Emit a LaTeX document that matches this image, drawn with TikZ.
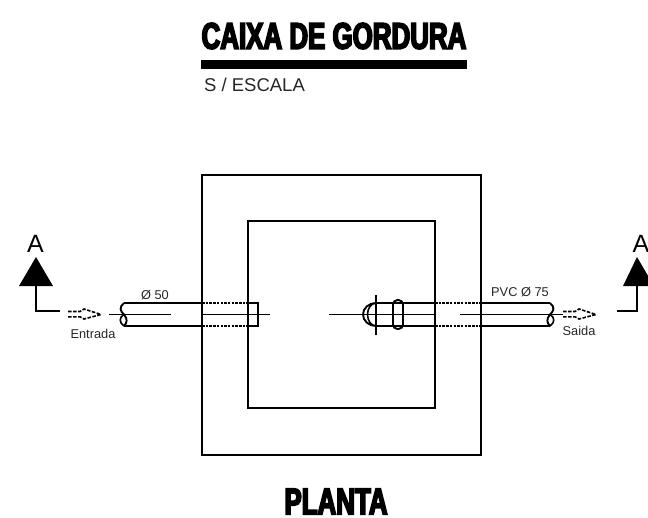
\documentclass[tikz,border=0pt]{standalone}
\usepackage{fontspec}
\setmainfont{Liberation Sans}
\newfontfamily\heavyfont[FakeBold=4.5,FakeStretch=0.7]{Liberation Sans Bold}
\begin{document}
\begin{tikzpicture}[x=1pt,y=-1pt,
  wall/.style={draw=black,line width=1.7pt},
  pipe/.style={draw=black,line width=1.9pt},
  axisline/.style={draw=black,line width=1.6pt},
  hidden/.style={draw=black,line width=1.2pt,dash pattern=on 2.5pt off 1.2pt},
  flow/.style={draw=black,line width=1.6pt,dash pattern=on 3.5pt off 1.5pt},
  heading/.style={inner sep=0pt,font=\heavyfont\fontsize{37}{37}\selectfont},
  small/.style={inner sep=0pt,font=\fontsize{12.8}{13}\selectfont,text=black!85},
  sect/.style={inner sep=0pt,font=\fontsize{25}{25}\selectfont}]
\useasboundingbox (0,0) rectangle (648,517);
% titles
\node[heading] (title) at (334,36) {CAIXA DE GORDURA};
\fill (201,60) rectangle (467,69);
\node[inner sep=0pt,font=\fontsize{18.5}{18.5}\selectfont,text=black!85] (scale) at (254.5,85) {S / ESCALA};
\node[heading] (planta) at (336,501.5) {PLANTA};
% walls
\draw[wall] (202,175) rectangle (481,455);
\draw[wall] (248,221) rectangle (435,408);
% inlet pipe
\draw[pipe] (124,303) -- (202,303) (248,303) -- (258,303) -- (258,326) -- (248,326) (202,326) -- (124,326);
\draw[hidden] (202,303) -- (248,303) (202,326) -- (248,326);
\draw[pipe] (124,303) .. controls (119,307) and (120,311) .. (124,314.5) .. controls (128,319) and (127,323) .. (124,326);
\draw[axisline] (124,314.5) .. controls (119,317) and (119,323) .. (124,326);
\draw[axisline] (109,314.5) -- (171,314.5) (202,314.5) -- (270,314.5);
% outlet pipe
\draw[pipe] (376,303) -- (435,303) (481,303) -- (550,303) (376,326) -- (435,326) (481,326) -- (550,326);
\draw[hidden] (435,303) -- (481,303) (435,326) -- (481,326);
\draw[pipe] (550,303) .. controls (555,307) and (554,311) .. (550,314.5) .. controls (546,319) and (547,323) .. (550,326);
\draw[axisline] (550,314.5) .. controls (555,317) and (555,323) .. (550,326);
\draw[axisline] (329,314.5) -- (435,314.5) (460,314.5) -- (563,314.5);
\draw[axisline] (376,295) -- (376,335);
\draw[pipe] (376,303) arc[start angle=-90,end angle=-270,x radius=13,y radius=11.5];
\draw[axisline] (376,303) arc[start angle=-90,end angle=-270,x radius=8.5,y radius=11.5];
\draw[pipe,fill=white,rounded corners=4.5pt] (393,300) rectangle (403,329);
\draw[axisline] (393,314.5) -- (403,314.5);
\draw[axisline] (393,303) -- (403,303) (393,326) -- (403,326);
% flow arrows
\draw[flow] (68,311.5) -- (80,311.5) -- (84,309) -- (101,314.5) -- (84,319) -- (80,316.8) -- (68,316.8);
\draw[flow] (563,311.5) -- (575,311.5) -- (579,309) -- (596,314.5) -- (579,319) -- (575,316.8) -- (563,316.8);
% section marks
\node[sect] (aleft) at (35.5,244) {A};
\fill (36,257) -- (53,286) -- (19,286) -- cycle;
\draw[axisline] (36,286) -- (36,311) -- (60,311);
\node[sect] (aright) at (641,244) {A};
\fill (637,257) -- (654,286) -- (623,286) -- cycle;
\draw[axisline] (637,286) -- (637,311) -- (617,311);
% labels
\node[small] (d50) at (155,295) {Ø 50};
\node[small] (entrada) at (93,334) {Entrada};
\node[small] (d75) at (520,292) {PVC Ø 75};
\node[small] (saida) at (579,331) {Saida};
\end{tikzpicture}
\end{document}
